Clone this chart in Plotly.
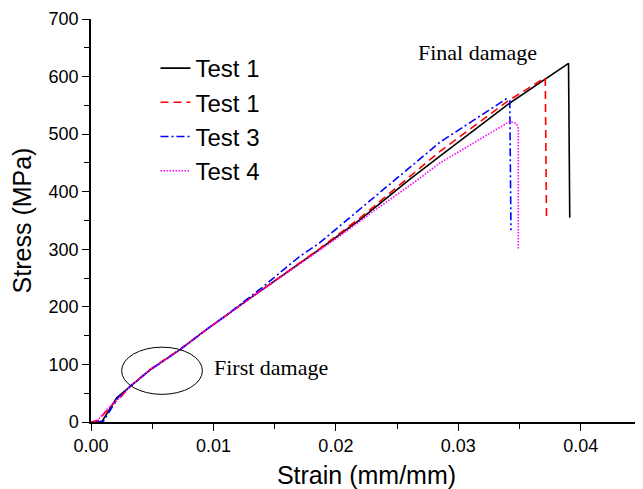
import plotly.graph_objects as go

# ---- data ----
names = ["Test 1", "Test 1", "Test 3", "Test 4"]

strain_t1 = [0.0000, 0.0009, 0.0021, 0.0032, 0.0048, 0.0073, 0.0092, 0.0130, 0.0170, 0.0186, 0.0220, 0.0260, 0.0285, 0.0340, 0.0390, 0.0391]
stress_t1 = [0, 1, 42, 62, 90, 126, 157, 215, 275, 299, 352, 421, 462, 551, 623, 355]

strain_t2 = [0.0000, 0.0006, 0.0015, 0.0025, 0.0032, 0.0048, 0.0073, 0.0092, 0.0130, 0.0170, 0.0186, 0.0220, 0.0260, 0.0285, 0.0340, 0.0371, 0.0372]
stress_t2 = [0, 3, 25, 45, 62, 91, 127, 157, 215, 275, 300, 355, 426, 470, 557, 598, 355]

strain_t3 = [0.0005, 0.0010, 0.0022, 0.0032, 0.0048, 0.0073, 0.0092, 0.0112, 0.0140, 0.0170, 0.0186, 0.0249, 0.0285, 0.0339, 0.0342, 0.0343]
stress_t3 = [0, 1, 42, 62, 90, 126, 157, 188, 234, 287, 310, 421, 486, 561, 558, 333]

strain_t4 = [0.0000, 0.0005, 0.0013, 0.0025, 0.0032, 0.0048, 0.0073, 0.0092, 0.0130, 0.0170, 0.0200, 0.0230, 0.0267, 0.0285, 0.0342, 0.0347, 0.0349, 0.0349]
stress_t4 = [0, 2, 22, 46, 62, 90, 126, 157, 215, 274, 318, 365, 421, 450, 522, 519, 510, 301]

x_ticks = [0.00, 0.01, 0.02, 0.03, 0.04]
x_tick_labels = ["0.00", "0.01", "0.02", "0.03", "0.04"]
y_ticks = [0, 100, 200, 300, 400, 500, 600, 700]

# ---- styling ----
series = [
    (strain_t1, stress_t1, "black", "solid"),
    (strain_t2, stress_t2, "#ff0000", "8px,5px"),
    (strain_t3, stress_t3, "#0000ff", "8px,3px,2px,3px"),
    (strain_t4, stress_t4, "#ff00ff", "1.5px,1.5px"),
]

fig = go.Figure()
for name, (xs, ys, col, dash) in zip(names, series):
    fig.add_trace(go.Scatter(x=xs, y=ys, mode="lines", name=name,
                             line=dict(color=col, width=1.6, dash=dash)))

sans = "Arial, Liberation Sans, sans-serif"
serif = "Times New Roman, Liberation Serif, serif"

# the page body has an 8px margin, so the figure is sized to fit the window
fig.update_layout(
    width=635, height=481,
    margin=dict(l=83, r=1, t=11, b=67),
    paper_bgcolor="white", plot_bgcolor="white",
    showlegend=True,
    legend=dict(x=0.117, y=0.933, xanchor="left", yanchor="top",
                bgcolor="rgba(0,0,0,0)", font=dict(family=sans, size=24, color="black"),
                tracegroupgap=0),
    font=dict(family=sans, color="black"),
)

fig.update_xaxes(
    range=[0, 0.045], showgrid=False, zeroline=False,
    showline=True, linecolor="black", linewidth=1.5,
    ticks="outside", ticklen=7, tickwidth=1.2, tickcolor="black",
    tickvals=x_ticks, ticktext=x_tick_labels,
    tickfont=dict(family=sans, size=18, color="black"),
    minor=dict(dtick=0.005, ticklen=5, tickwidth=1.2, tickcolor="black", ticks="outside"),
    title=dict(text="Strain (mm/mm)", font=dict(family=sans, size=25, color="black"), standoff=14),
    automargin=False,
)
fig.update_yaxes(
    range=[0, 700], showgrid=False, zeroline=False,
    showline=True, linecolor="black", linewidth=1.5,
    ticks="outside", ticklen=7, tickwidth=1.2, tickcolor="black",
    tickvals=y_ticks,
    tickfont=dict(family=sans, size=18, color="black"),
    minor=dict(dtick=50, ticklen=5, tickwidth=1.2, tickcolor="black", ticks="outside"),
    title=dict(text="Stress (MPa)", font=dict(family=sans, size=25, color="black"), standoff=10),
    automargin=False,
)

fig.add_shape(type="circle", xref="x", yref="y", x0=0.0025, x1=0.0091, y0=48, y1=130,
              line=dict(color="black", width=1))

fig.add_annotation(x=0.0316, y=642, xref="x", yref="y", text="Final damage", showarrow=False,
                   font=dict(family=serif, size=22, color="black"))
fig.add_annotation(x=0.0099, y=95, xref="x", yref="y", text="First damage", showarrow=False,
                   xanchor="left", font=dict(family=serif, size=22, color="black"))

fig.write_html("out.html")
